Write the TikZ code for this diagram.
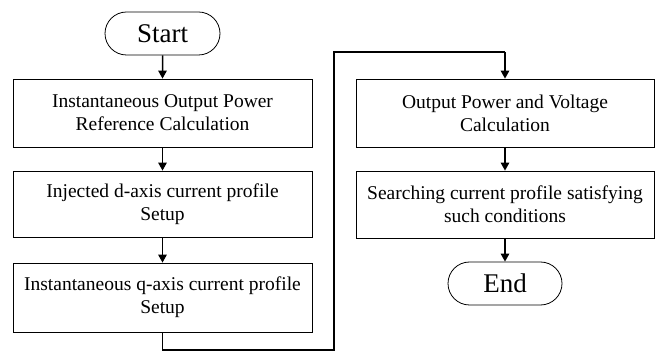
\documentclass[tikz,border=0pt]{standalone}
\usepackage{fontspec}
\setmainfont{Liberation Serif}
\usetikzlibrary{arrows.meta,shapes.misc}
\begin{document}
\begin{tikzpicture}[x=1pt,y=-1pt,
  box/.style={draw=black, line width=0.8pt, minimum width=299pt, inner sep=0pt,
    align=center, font=\fontsize{19.5}{23}\selectfont},
  term/.style={draw=black, line width=0.8pt, rounded rectangle, minimum width=115pt,
    minimum height=43pt, inner sep=0pt, font=\fontsize{27}{30}\selectfont},
  conn/.style={line width=1.5pt, -{Triangle[length=8pt,width=8.5pt]}},
  plain/.style={line width=1.5pt, line join=miter}]
\useasboundingbox (0,0) rectangle (664,352);
\node[term] (start) at (162.5,33.5) {Start};
\node[box, minimum height=68pt] (b1) at (162.5,113) {Instantaneous Output Power\\Reference Calculation};
\node[box, minimum height=66pt] (b2) at (162.5,204) {Injected d-axis current profile\\Setup};
\node[box, minimum height=69pt] (b3) at (162.5,297.5) {Instantaneous q-axis current profile\\Setup};
\node[box, minimum width=298pt, minimum height=68pt] (b4) at (505,113) {Output Power and Voltage\\Calculation};
\node[box, minimum width=298pt, minimum height=67pt] (b5) at (505,204.5) {Searching current profile satisfying\\such conditions};
\node[term, minimum width=114pt] (end) at (505,283.5) {End};
\coordinate (c1) at (162.5,350);
\coordinate (c2) at (334,350);
\coordinate (c3) at (334,52);
\coordinate (c4) at (505,52);
\draw[conn] (start) -- (b1);
\draw[conn] (b1) -- (b2);
\draw[conn] (b2) -- (b3);
\draw[plain] (b3.south) -- (c1) -- (c2) -- (c3) -- (c4);
\draw[conn] (c4) -- (b4.north);
\draw[conn] (b4) -- (b5);
\draw[conn] (b5) -- (end);
\end{tikzpicture}
\end{document}
